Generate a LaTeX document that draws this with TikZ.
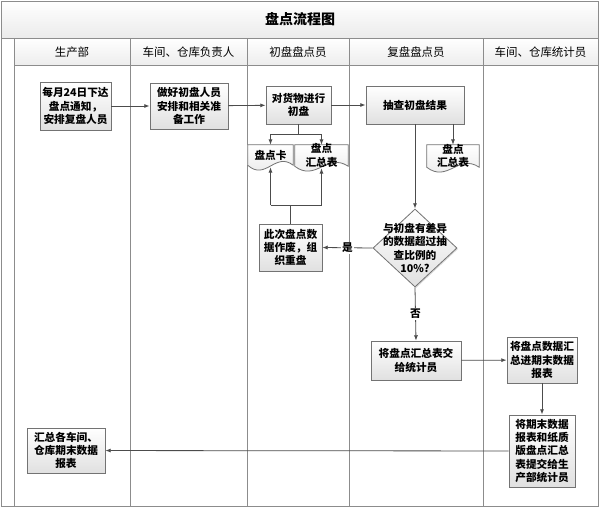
\documentclass[tikz,border=0pt]{standalone}
\usepackage{fontspec}
\newfontfamily\cjk{Noto Sans CJK SC}
\usetikzlibrary{shapes.geometric,arrows.meta,calc,shadows}
\begin{document}
\begin{tikzpicture}[x=0.75pt,y=-0.75pt,
  frameline/.style={draw=black!45,line width=0.6pt},
  bx/.style={draw=black!55,line width=0.6pt,top color=white,bottom color=black!12,
    align=center,font=\cjk\bfseries\fontsize{8}{10}\selectfont,inner sep=0pt,
    drop shadow={shadow xshift=0.8pt,shadow yshift=-0.8pt,fill=black!25,opacity=0.6}},
  docn/.style={align=center,font=\cjk\bfseries\fontsize{8}{10}\selectfont,inner sep=0pt},
  docline/.style={draw=black!55,line width=0.6pt,top color=white,bottom color=black!10},
  ln/.style={draw=black!70,line width=0.6pt},
  arr/.style={draw=black!70,line width=0.6pt,-{Latex[length=4pt,width=3pt]}},
  lbl/.style={fill=white,inner sep=1pt,font=\cjk\bfseries\fontsize{8}{10}\selectfont},
  hdr/.style={font=\cjk\fontsize{8.6}{10}\selectfont}
]
\useasboundingbox (0,0) rectangle (600,507);
% frame and lanes
\fill[white] (0,0) rectangle (600,507);
\shade[top color=white,bottom color=black!8] (1,1) rectangle (598,38);
\shade[top color=white,bottom color=black!7] (14,38) rectangle (598,65);
\draw[frameline] (1,1) rectangle (598,506);
\draw[frameline] (1,38) -- (598,38);
\draw[frameline] (14,65) -- (598,65);
\foreach \xx in {14,130,247,349,483} {\draw[frameline] (\xx,38) -- (\xx,506);}
\node[font=\cjk\bfseries\fontsize{10.5}{12}\selectfont] (title) at (300,19) {盘点流程图};
\node[hdr] (h1) at (72,52) {生产部};
\node[hdr] (h2) at (188.5,52) {车间、仓库负责人};
\node[hdr] (h3) at (298,52) {初盘盘点员};
\node[hdr] (h4) at (416,52) {复盘盘点员};
\node[hdr] (h5) at (540.5,52) {车间、仓库统计员};
% boxes
\node[bx,minimum width=71*0.75pt,minimum height=48*0.75pt] (A) at (75.5,106) {每月24日下达\\盘点通知，\\安排复盘人员};
\node[bx,minimum width=78*0.75pt,minimum height=46*0.75pt] (B) at (189,106) {做好初盘人员\\安排和相关准\\备工作};
\node[bx,minimum width=65*0.75pt,minimum height=38*0.75pt] (C) at (298.5,105) {对货物进行\\初盘};
\node[bx,minimum width=98*0.75pt,minimum height=38*0.75pt] (D) at (415,105) {抽查初盘结果};
\node[bx,minimum width=63*0.75pt,minimum height=47*0.75pt] (E) at (290.5,247.5) {此次盘点数\\据作废，组\\织重盘};
\node[draw=black!55,line width=0.6pt,top color=white,bottom color=black!12,diamond,
  minimum width=84*0.75pt,minimum height=78*0.75pt,inner sep=0pt,
  drop shadow={shadow xshift=0.8pt,shadow yshift=-0.8pt,fill=black!25,opacity=0.6}] (F) at (415,248) {};
\node[docn] (Ft) at (F.center) {与初盘有差异\\的数据超过抽\\查比例的\\10\%?};
\node[bx,minimum width=90*0.75pt,minimum height=39*0.75pt] (G) at (416,360.5) {将盘点汇总表交\\给统计员};
\node[bx,minimum width=70*0.75pt,minimum height=46*0.75pt] (H) at (542,360) {将盘点数据汇\\总进期末数据\\报表};
\node[bx,minimum width=66*0.75pt,minimum height=72*0.75pt] (I) at (542,451) {将期末数据\\报表和纸质\\版盘点汇总\\表提交给生\\产部统计员};
\node[bx,minimum width=78*0.75pt,minimum height=45*0.75pt] (J) at (66,450.5) {汇总各车间、\\仓库期末数据\\报表};
% documents
\node[docn,minimum width=45*0.75pt,minimum height=20*0.75pt] (d1) at (270.5,155) {};
\node[docn,minimum width=53*0.75pt,minimum height=21*0.75pt] (d2) at (321.5,155.5) {};
\node[docn,minimum width=52*0.75pt,minimum height=22*0.75pt] (d3) at (453,156) {};
\foreach \d/\w in {d1/45,d2/53,d3/52} {
  \path[docline] (\d.south west) -- (\d.north west) -- (\d.north east) -- (\d.south east)
    .. controls ($(\d.south east)+(-0.4*\w,-14)$) and ($(\d.south west)+(0.4*\w,16)$) .. (\d.south west) -- cycle;
}
\node[docn] at (d1.center) {盘点卡};
\node[docn] at (d2.center) {盘点\\汇总表};
\node[docn] at (d3.center) {盘点\\汇总表};
% connectors
\draw[arr] (A) -- (B);
\draw[arr] (B) -- (C);
\draw[arr] (C) -- (D);
\coordinate (c1) at (298,134);
\draw[ln] (C.south) -- (C.south |- c1);
\draw[ln] (d1.north |- c1) -- (d2.north |- c1);
\draw[arr] (d1.north |- c1) -- (d1.north);
\draw[arr] (d2.north |- c1) -- (d2.north);
\draw[arr] (d3.north |- D.south) -- (d3.north);
\draw[arr] (D.south) -- (F.north);
\draw[arr] (F.west) -- node[lbl] {是} (E.east);
\coordinate (e1) at (291,205);
\draw[ln] (E.north) -- (E.north |- e1);
\draw[ln] (d1.south |- e1) -- (d2.south |- e1);
\draw[arr] (d1.south |- e1) -- ($(d1.south)+(0,2)$);
\draw[arr] (d2.south |- e1) -- ($(d2.south)+(0,2)$);
\draw[arr] (F.south) -- node[lbl] {否} (G.north);
\draw[arr] (G) -- (H);
\draw[arr] (H) -- (I);
\draw[arr] (I) -- (J);
\end{tikzpicture}
\end{document}
